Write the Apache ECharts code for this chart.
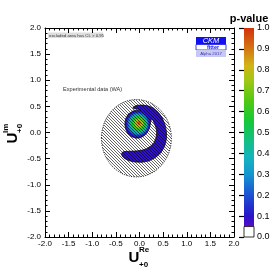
<!DOCTYPE html>
<html><head><meta charset="utf-8">
<script src="https://cdn.jsdelivr.net/npm/echarts@6/dist/echarts.min.js"></script>
<style>html,body{margin:0;padding:0;background:#fff}#c{width:276px;height:276px}</style>
</head><body><div id="c"></div>
<script>
// ---- data ----
// p = 0.05 contour (outer edge of the allowed region), [U_Re, U_Im]
const outerContour = [
  [-0.14,0.47],[-0.12,0.495],[-0.05,0.52],[0.08,0.525],[0.20,0.505],[0.30,0.465],[0.40,0.385],[0.48,0.285],
  [0.54,0.15],[0.57,0.02],[0.57,-0.12],[0.53,-0.27],[0.45,-0.39],[0.34,-0.48],[0.20,-0.545],[0.05,-0.57],
  [-0.10,-0.565],[-0.22,-0.54],[-0.31,-0.50],[-0.36,-0.46],[-0.38,-0.42],[-0.37,-0.385],
  [-0.33,-0.365],[-0.22,-0.36],[-0.08,-0.355],[0.05,-0.34],[0.15,-0.31],[0.24,-0.26],[0.31,-0.19],
  [0.35,-0.10],[0.365,0.0],[0.35,0.09],[0.32,0.16],[0.285,0.23],[0.255,0.265],
  [0.235,0.20],[0.225,0.14],[0.205,0.07],[0.165,0.0],[0.10,-0.06],[0.02,-0.10],[-0.07,-0.11],[-0.17,-0.08],
  [-0.25,-0.02],[-0.295,0.07],[-0.31,0.16],[-0.295,0.26],[-0.24,0.35],[-0.14,0.41],[-0.04,0.428],[0.03,0.432],
  [-0.05,0.45],[-0.11,0.455]
];
const outerLevelP = 0.09;   // p-value inside the arm
// nested p-value levels of the main peak: [p, centre x, centre y, half-width, half-height]
const peakLevels = [
  [0.15,-0.038,0.160,0.245,0.240],
  [0.25,-0.034,0.163,0.222,0.216],
  [0.35,-0.030,0.166,0.200,0.193],
  [0.45,-0.026,0.170,0.178,0.170],
  [0.55,-0.022,0.173,0.152,0.145],
  [0.65,-0.018,0.176,0.122,0.116],
  [0.75,-0.014,0.179,0.090,0.086],
  [0.85,-0.012,0.181,0.060,0.057],
  [0.95,-0.010,0.183,0.030,0.030]
];
const hatchRegion = [-0.065, -0.11, 0.74];   // centre x, centre y, radius
const axisRange = [-2, 2];
const axisStep = 0.5;
const pScaleRange = [0.05, 1.0];
const paletteStops = [
  [0.05,'#5a0ac8'],[0.10,'#2814c8'],[0.20,'#1e50d2'],[0.30,'#1496d2'],[0.38,'#14b4be'],
  [0.45,'#14be8c'],[0.55,'#14c83c'],[0.65,'#50c814'],[0.75,'#a0c814'],[0.82,'#d2b414'],
  [0.90,'#d27814'],[1.00,'#d2320a']
];

// ---- helpers ----
function hexToRgb(h){return [parseInt(h.substr(1,2),16),parseInt(h.substr(3,2),16),parseInt(h.substr(5,2),16)];}
function colorFor(v){
  if (v <= paletteStops[0][0]) return paletteStops[0][1];
  for (let i=1;i<paletteStops.length;i++){
    if (v <= paletteStops[i][0]){
      const [v0,c0]=paletteStops[i-1],[v1,c1]=paletteStops[i];
      const t=(v-v0)/(v1-v0), a=hexToRgb(c0), b=hexToRgb(c1);
      return 'rgb('+a.map((x,k)=>Math.round(x+(b[k]-x)*t)).join(',')+')';
    }
  }
  return paletteStops[paletteStops.length-1][1];
}

const hatch = document.createElement('canvas');
hatch.width = 3; hatch.height = 3;
(function(){ const g=hatch.getContext('2d'); g.fillStyle='rgba(0,0,0,0.6)'; for(let i=0;i<3;i++) g.fillRect(i,i,1,1); })();

const FONT = '"Liberation Sans", Arial, sans-serif';
const axisBase = {
  type:'value', min:axisRange[0], max:axisRange[1], interval:axisStep,
  axisLine:{show:true, onZero:false, lineStyle:{color:'#000', width:1}},
  axisTick:{show:true, inside:true, length:5, lineStyle:{color:'#000', width:1}},
  minorTick:{show:true, splitNumber:5, length:2.5, lineStyle:{color:'#000', width:1}},
  splitLine:{show:false}, minorSplitLine:{show:false}
};
const lab = (m)=>({show:true, fontSize:8, fontFamily:FONT, color:'#000', margin:m, formatter:v=>v.toFixed(1)});

const chart = echarts.init(document.getElementById('c'), null, {renderer:'canvas'});
chart.setOption({
  animation:false,
  backgroundColor:'#fff',
  grid:[{left:45, top:28, width:189, height:209},{left:244, top:28, width:10, height:209}],
  xAxis:[
    Object.assign({}, axisBase, {gridIndex:0, position:'bottom', axisLabel:lab(3)}),
    Object.assign({}, axisBase, {gridIndex:0, position:'top', axisLabel:{show:false}}),
    {type:'value', gridIndex:1, min:0, max:1, show:false}
  ],
  yAxis:[
    Object.assign({}, axisBase, {gridIndex:0, position:'left', axisLabel:lab(4)}),
    Object.assign({}, axisBase, {gridIndex:0, position:'right', axisLabel:{show:false}}),
    {type:'value', gridIndex:1, min:0, max:1, interval:0.1, position:'right',
     axisLine:{show:false}, splitLine:{show:false},
     axisTick:{show:true, inside:true, length:5, lineStyle:{color:'#000', width:1.2}},
     axisLabel:{fontSize:9, fontFamily:FONT, color:'#000', margin:3, formatter:v=>v.toFixed(1)}}
  ],
  series:[
    {type:'custom', xAxisIndex:0, yAxisIndex:0, data:outerContour, encode:{x:0,y:1}, clip:true,
     renderItem:(p,api)=>{
       if (p.dataIndex !== 0) return null;
       return {type:'polygon', shape:{points:outerContour.map(pt=>api.coord(pt))},
               style:{fill:colorFor(outerLevelP), stroke:'#111', lineWidth:0.8}};
     }},
    {type:'custom', xAxisIndex:0, yAxisIndex:0, data:peakLevels.map(l=>[l[1],l[2],l[3],l[4],l[0]]), encode:{x:0,y:1}, clip:true,
     renderItem:(p,api)=>{
       const c=api.coord([api.value(0), api.value(1)]);
       const s=api.size([api.value(2), api.value(3)]);
       return {type:'ellipse', shape:{cx:c[0], cy:c[1], rx:s[0], ry:s[1]}, style:{fill:colorFor(api.value(4))}};
     }},
    {type:'custom', xAxisIndex:0, yAxisIndex:0, data:[hatchRegion], encode:{x:0,y:1}, clip:true,
     renderItem:(p,api)=>{
       const c=api.coord([api.value(0), api.value(1)]);
       const s=api.size([api.value(2), api.value(2)]);
       return {type:'ellipse', shape:{cx:c[0], cy:c[1], rx:s[0], ry:s[1]},
               style:{fill:{image:hatch, repeat:'repeat'}, stroke:'#000', lineWidth:0.8, lineDash:[1.2,1.2]}};
     }},
    {type:'custom', xAxisIndex:2, yAxisIndex:2, data:[[0, pScaleRange[0], pScaleRange[1]], [0, 0, pScaleRange[0]]], encode:{x:0,y:[1,2]},
     renderItem:(p,api)=>{
       const lo=api.value(1), hi=api.value(2);
       const a=api.coord([0,hi]), b=api.coord([1,lo]);
       const shape={x:a[0], y:a[1], width:b[0]-a[0], height:b[1]-a[1]};
       if (p.dataIndex===0){
         const stops = paletteStops.map(([v,c])=>({offset:(pScaleRange[1]-v)/(pScaleRange[1]-pScaleRange[0]), color:c})).sort((m,n)=>m.offset-n.offset);
         return {type:'rect', shape, style:{fill:new echarts.graphic.LinearGradient(0,0,0,1,stops)}};
       }
       return {type:'rect', shape, style:{fill:'#fff', stroke:'#000', lineWidth:0.8}};
     }}
  ],
  graphic:[
    {type:'text', x:249, y:19, style:{text:'p-value', font:'bold 11px '+FONT, fill:'#000', align:'center', verticalAlign:'middle'}},
    {type:'text', x:134, y:258, style:{text:'U', font:'bold 15px '+FONT, fill:'#000', align:'center', verticalAlign:'middle'}},
    {type:'text', x:139, y:250, style:{text:'Re', font:'bold 8px '+FONT, fill:'#000', align:'left', verticalAlign:'middle'}},
    {type:'text', x:139, y:265, style:{text:'+0', font:'bold 8px '+FONT, fill:'#000', align:'left', verticalAlign:'middle'}},
    {type:'group', x:13, y:138, rotation:Math.PI/2, children:[
      {type:'text', x:0, y:0, style:{text:'U', font:'bold 15px '+FONT, fill:'#000', align:'center', verticalAlign:'middle'}},
      {type:'text', x:5, y:-7, style:{text:'Im', font:'bold 8px '+FONT, fill:'#000', align:'left', verticalAlign:'middle'}},
      {type:'text', x:5, y:7, style:{text:'+0', font:'bold 8px '+FONT, fill:'#000', align:'left', verticalAlign:'middle'}}
    ]},
    {type:'rect', shape:{x:48, y:32.5, width:55, height:5.5}, style:{fill:'#dedede'}},
    {type:'text', x:49, y:35.4, style:{text:'excluded area has CL > 0.95', font:'4.3px '+FONT, fill:'#333', align:'left', verticalAlign:'middle'}},
    {type:'text', x:63, y:89, style:{text:'Experimental data (WA)', font:'5.6px '+FONT, fill:'#333', align:'left', verticalAlign:'middle'}},
    {type:'rect', shape:{x:196, y:37, width:30, height:7.5}, style:{fill:'#1010f0'}},
    {type:'text', x:211, y:41, style:{text:'CKM', font:'italic 7.5px '+FONT, fill:'#fff', align:'center', verticalAlign:'middle'}},
    {type:'rect', shape:{x:196, y:44.5, width:30, height:5.5}, style:{fill:'#fff', stroke:'#1010f0', lineWidth:0.8}},
    {type:'text', x:213, y:47.3, style:{text:'fitter', font:'bold 5.5px '+FONT, fill:'#1010f0', align:'center', verticalAlign:'middle'}},
    {type:'rect', shape:{x:196, y:50, width:30, height:7}, style:{fill:'#c8c8f4'}},
    {type:'text', x:211, y:53.5, style:{text:'Alpha 2017', font:'4.3px '+FONT, fill:'#3a3ab0', align:'center', verticalAlign:'middle'}}
  ]
});
</script></body></html>
